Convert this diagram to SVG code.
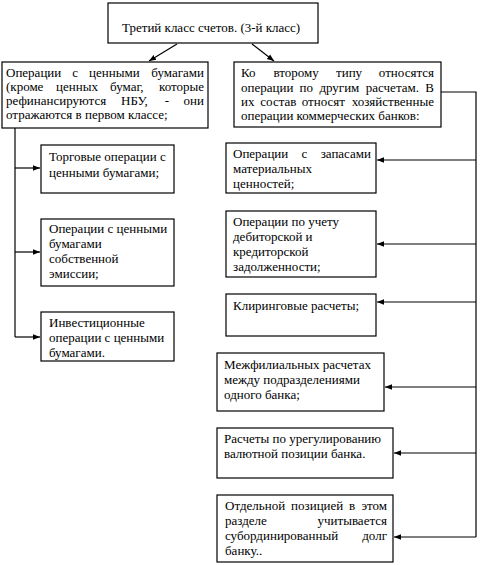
<svg xmlns="http://www.w3.org/2000/svg" width="483" height="565" viewBox="0 0 483 565">
<style>
.b{fill:#fff;stroke:#000;stroke-width:1.2}
.t{font-family:"Liberation Serif","Times New Roman",serif;font-size:13px;fill:#000}
.e{text-anchor:end}
.c{fill:none;stroke:#000;stroke-width:1.2}
</style>
<defs>
<marker id="a" viewBox="0 0 10 10" refX="10" refY="5" markerWidth="7" markerHeight="7" markerUnits="userSpaceOnUse" orient="auto">
<path d="M0,1 L10,5 L0,9 z" fill="#000"/>
</marker>
</defs>
<rect width="483" height="565" fill="#fff"/>
<g id="connectors">
<line class="c" x1="177" y1="44" x2="149" y2="61" marker-end="url(#a)"/>
<line class="c" x1="252" y1="44" x2="274" y2="61" marker-end="url(#a)"/>
<polyline class="c" points="15,128 15,337"/>
<line class="c" x1="15" y1="168" x2="40" y2="168" marker-end="url(#a)"/>
<line class="c" x1="15" y1="252" x2="40" y2="252" marker-end="url(#a)"/>
<line class="c" x1="15" y1="337" x2="40" y2="337" marker-end="url(#a)"/>
<polyline class="c" points="441,92 476,92 476,537"/>
<line class="c" x1="476" y1="160" x2="377" y2="160" marker-end="url(#a)"/>
<line class="c" x1="476" y1="244" x2="377" y2="244" marker-end="url(#a)"/>
<line class="c" x1="476" y1="302" x2="377" y2="302" marker-end="url(#a)"/>
<line class="c" x1="476" y1="387" x2="385" y2="387" marker-end="url(#a)"/>
<line class="c" x1="476" y1="453" x2="394" y2="453" marker-end="url(#a)"/>
<line class="c" x1="476" y1="537" x2="394" y2="537" marker-end="url(#a)"/>
</g>
<g id="top">
<rect class="b" x="108" y="3" width="210" height="40"/>
<text class="t" x="122" y="32">Третий класс счетов. (3-й класс)</text>
</g>
<g id="securities">
<rect class="b" x="2" y="62" width="206" height="66"/>
<text class="t" y="77"><tspan x="6">Операции</tspan><tspan x="72.3">с</tspan><tspan x="89.1">ценными</tspan><tspan class="e" x="204">бумагами</tspan></text>
<text class="t" y="91"><tspan x="6">(кроме</tspan><tspan x="56">ценных</tspan><tspan x="110.1">бумаг,</tspan><tspan class="e" x="204">которые</tspan></text>
<text class="t" y="105"><tspan x="6">рефинансируются</tspan><tspan x="121">НБУ,</tspan><tspan x="164.8">-</tspan><tspan class="e" x="204">они</tspan></text>
<text class="t" x="6" y="119">отражаются в первом классе;</text>
</g>
<g id="other">
<rect class="b" x="234" y="62" width="207" height="65"/>
<text class="t" y="77"><tspan x="241">Ко</tspan><tspan x="273.4">второму</tspan><tspan x="336">типу</tspan><tspan class="e" x="434">относятся</tspan></text>
<text class="t" y="92"><tspan x="241">операции</tspan><tspan x="299.6">по</tspan><tspan x="319.4">другим</tspan><tspan x="365.8">расчетам.</tspan><tspan class="e" x="434">В</tspan></text>
<text class="t" y="106"><tspan x="241">их</tspan><tspan x="260.3">состав</tspan><tspan x="301.7">относят</tspan><tspan class="e" x="434">хозяйственные</tspan></text>
<text class="t" x="241" y="120">операции коммерческих банков:</text>
</g>
<g id="trading">
<rect class="b" x="41" y="145" width="133" height="48"/>
<text class="t" x="49" y="161">Торговые операции с</text>
<text class="t" x="49" y="177">ценными бумагами;</text>
</g>
<g id="own-issue">
<rect class="b" x="41" y="219" width="133" height="67"/>
<text class="t" x="49" y="233">Операции с ценными</text>
<text class="t" x="49" y="248">бумагами</text>
<text class="t" x="49" y="263">собственной</text>
<text class="t" x="49" y="278">эмиссии;</text>
</g>
<g id="investment">
<rect class="b" x="41" y="312" width="133" height="49"/>
<text class="t" x="49" y="327">Инвестиционные</text>
<text class="t" x="49" y="342">операции с ценными</text>
<text class="t" x="49" y="357">бумагами.</text>
</g>
<g id="stocks">
<rect class="b" x="226" y="143" width="150" height="50"/>
<text class="t" y="158"><tspan x="233">Операции</tspan><tspan x="301.6">с</tspan><tspan class="e" x="371">запасами</tspan></text>
<text class="t" x="233" y="173">материальных</text>
<text class="t" x="233" y="188">ценностей;</text>
</g>
<g id="debts">
<rect class="b" x="226" y="211" width="150" height="66"/>
<text class="t" x="233" y="226">Операции по учету</text>
<text class="t" x="233" y="241">дебиторской и</text>
<text class="t" x="233" y="256">кредиторской</text>
<text class="t" x="233" y="271">задолженности;</text>
</g>
<g id="clearing">
<rect class="b" x="226" y="294" width="150" height="42"/>
<text class="t" x="233" y="310">Клиринговые расчеты;</text>
</g>
<g id="interbranch">
<rect class="b" x="217" y="353" width="167" height="58"/>
<text class="t" x="224" y="369">Межфилиальных расчетах</text>
<text class="t" x="224" y="384">между подразделениями</text>
<text class="t" x="224" y="399">одного банка;</text>
</g>
<g id="currency">
<rect class="b" x="217" y="428" width="176" height="50"/>
<text class="t" x="224" y="443">Расчеты по урегулированию</text>
<text class="t" x="224" y="458">валютной позиции банка.</text>
</g>
<g id="subordinated">
<rect class="b" x="217" y="495" width="176" height="67"/>
<text class="t" y="510"><tspan x="225">Отдельной</tspan><tspan x="291.1">позицией</tspan><tspan x="349.1">в</tspan><tspan class="e" x="387">этом</tspan></text>
<text class="t" y="525"><tspan x="225">разделе</tspan><tspan class="e" x="387">учитывается</tspan></text>
<text class="t" y="540"><tspan x="225">субординированный</tspan><tspan class="e" x="387">долг</tspan></text>
<text class="t" x="225" y="555">банку..</text>
</g>
</svg>
